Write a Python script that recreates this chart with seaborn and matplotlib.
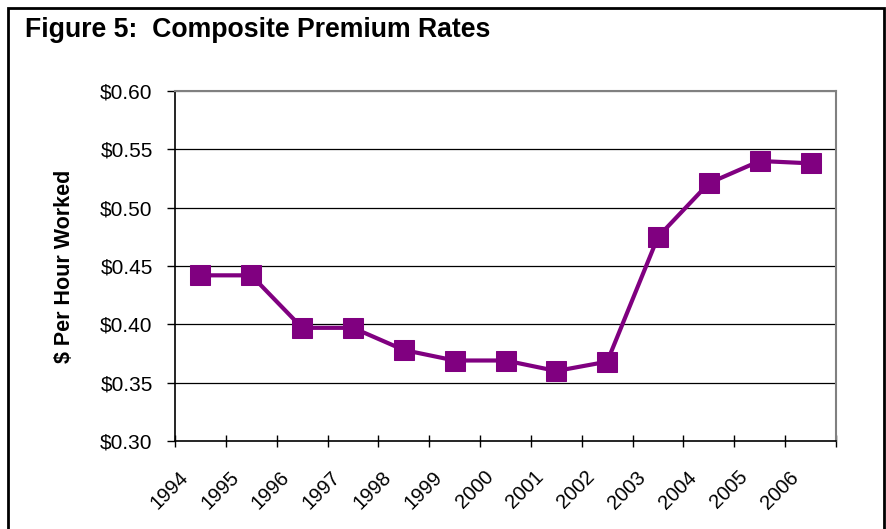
import matplotlib.pyplot as plt
import seaborn as sns
import numpy as np
from matplotlib.patches import Rectangle
from matplotlib.ticker import FixedLocator
from matplotlib.transforms import ScaledTranslation

# Data
years = ['1994', '1995', '1996', '1997', '1998', '1999', '2000',
         '2001', '2002', '2003', '2004', '2005', '2006']
rates = [0.442, 0.442, 0.397, 0.397, 0.378, 0.369, 0.369,
         0.360, 0.368, 0.475, 0.521, 0.540, 0.538]
y_ticks = [0.30, 0.35, 0.40, 0.45, 0.50, 0.55, 0.60]

sns.set_style('white')
plt.rcParams['font.family'] = ['Liberation Sans', 'DejaVu Sans']
plt.rcParams['text.color'] = 'black'
plt.rcParams['axes.labelcolor'] = 'black'
plt.rcParams['xtick.color'] = 'black'
plt.rcParams['ytick.color'] = 'black'

fig = plt.figure(figsize=(8.87, 5.29), dpi=100)
ax = fig.add_axes([175 / 887, 1 - 441 / 529, (836 - 175) / 887, (441 - 91) / 529])

pos = np.arange(len(years))
sns.lineplot(x=pos, y=rates, ax=ax, color='#800080', linewidth=3,
             marker='s', markersize=14, markeredgecolor='#800080')

ax.set_xlim(-0.5, len(years) - 0.5)
ax.set_ylim(0.30, 0.60)
ax.set_yticks(y_ticks)
ax.set_yticklabels(['${:.2f}'.format(v) for v in y_ticks])
for v in y_ticks[1:]:
    ax.axhline(v, color='black' if v < 0.6 else '#808080', linewidth=0.9, zorder=0)

# category boundaries as major ticks, labels on minor ticks
ax.xaxis.set_major_locator(FixedLocator(np.arange(-0.5, len(years), 1.0)))
ax.xaxis.set_minor_locator(FixedLocator(pos))
ax.set_xticklabels([])
ax.set_xticklabels(years, minor=True)
ax.tick_params(axis='x', which='major', bottom=True, length=8, width=1,
               direction='inout', color='black')
ax.tick_params(axis='x', which='minor', bottom=True, length=0, pad=19,
               labelsize=14.5, labelrotation=45, labelcolor='black')
ax.tick_params(axis='y', left=True, length=6, width=1, direction='out',
               color='black', pad=10, labelsize=15, labelcolor='black')
shift = ScaledTranslation(-0.22, 0, fig.dpi_scale_trans)
for lbl in ax.get_xticklabels(minor=True):
    lbl.set_ha('right')
    lbl.set_rotation_mode('anchor')
    lbl.set_transform(lbl.get_transform() + shift)

for side in ['left', 'bottom']:
    ax.spines[side].set_color('black')
    ax.spines[side].set_linewidth(1.2)
for side in ['top', 'right']:
    ax.spines[side].set_color('#808080')
    ax.spines[side].set_linewidth(1.5)

ax.set_ylabel('$ Per Hour Worked', fontsize=15.5, fontweight='bold',
              labelpad=18, color='black')

fig.text(25 / 887, 1 - 30 / 529, 'Figure 5:  Composite Premium Rates',
         fontsize=19.2, fontweight='bold', va='center', ha='left', color='black')

# outer frame
fig.patches.append(Rectangle((8 / 887, -0.05), 876 / 887, 1.05 - 8 / 529,
                             transform=fig.transFigure, fill=False,
                             edgecolor='black', linewidth=2))

plt.savefig('out.png', dpi=100)
